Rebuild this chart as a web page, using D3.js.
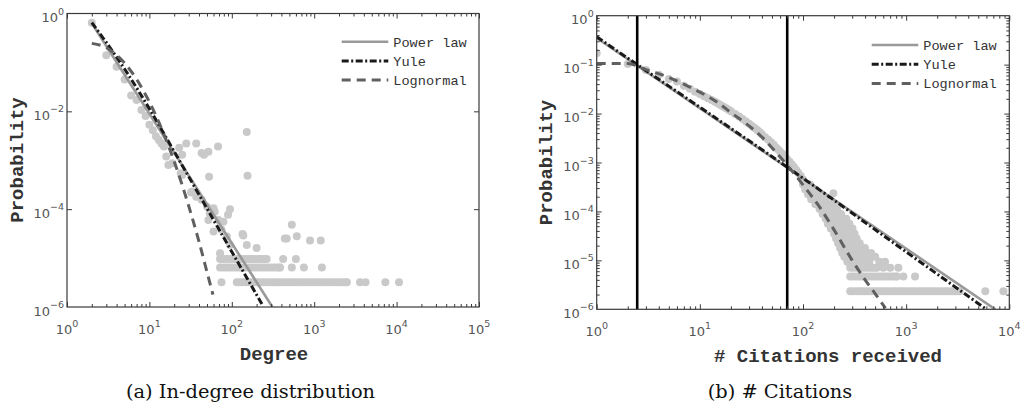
<!DOCTYPE html>
<html><head><meta charset="utf-8">
<script src="https://cdn.jsdelivr.net/npm/d3@7"></script>
<style>body{margin:0;background:#fff} svg{display:block}</style>
</head><body>
<svg id="chart" width="1021" height="403"></svg>
<script>
// ---------------- DATA ----------------
// (a) In-degree distribution : scattered observations [degree, probability]
const degreePoints = [
  [2,0.65],[3,0.14],[4,0.082],[5,0.045],[6,0.021],[7,0.017],[8,0.0107],[9,0.0080],[10,0.0053],
  [11,0.0041],[12,0.0031],[13,0.0026],[14,0.0022],[15,0.0019],[16,0.0012],[17,0.0008],[19,0.00087],
  [23,0.0018],[25,0.0013],[24,0.00054],[25,0.0005],[28,0.0022],[32,0.00022],[33,0.00023],[37,0.0022],
  [37,0.00018],[43,0.0014],[43,0.000155],[46,0.0013],[50,0.000112],[52,0.0015],[53,0.00046],
  [54,0.000082],[52,0.00006],[60,0.000104],[60,0.000035],[62,0.000089],[68,0.0019],[69,0.00006],
  [72,0.0000125],[75,0.000038],[79,0.000055],[87,0.0000275],[90,0.000077],[95,0.0001],[95,0.0000185],
  [135,0.000031],[138,0.000029],[152,0.0000185],[152,0.0038],[155,0.00048],[200,0.000016],
  [440,0.000025],[464,0.000025],[535,0.000048],[615,0.000028],[890,0.000023],[1200,0.000023]
];
// degrees observed once, twice, three times
const degreeOnce  = [75,115,125,136,148,161,175,190,207,225,245,267,290,316,344,374,407,443,482,524,570,620,675,734,799,869,946,1029,1120,1218,1326,1442,1570,1708,1858,2022,2200,2400,2490,3600,4200,7300,10700];
const degreeTwice = [72,78,85,92,100,109,118,128,139,151,164,178,194,211,229,249,271,294,320,348,378,385,535,750,1240];
const degreeThrice= [72,78,85,92,100,109,118,128,139,151,164,178,194,211,229,249,265,420,600];
const degreeRowProb = [3.2e-6, 6.4e-6, 9.6e-6];

// fitted curves (a)
const degPowerLaw  = [[2,0.63],[311,1e-6]];
const degYule      = [[2,0.65],[3,0.256],[5,0.0733],[10,0.01127],[20,0.00151],[50,0.000103],[100,1.35e-5],[240,1.04e-6]];
const degLognormal = [[2,0.245],[3,0.20],[5,0.097],[7,0.045],[10,0.0155],[15,0.0034],[20,0.00094],[25,0.00031],[30,0.000116],[40,0.0000216],[50,0.0000052],[59,0.0000018]];

// (b) # Citations : main band [citations, probability]
const citeBand = [
  [1,0.17],[2,0.103],[3,0.078],[4,0.062],[5,0.051],[6,0.045],[7,0.037],[8,0.032],[9,0.028],[10,0.025],
  [11,0.0225],[12,0.0205],[13,0.019],[14,0.0174],[15,0.016],[16,0.0148],[17,0.0138],[18,0.0128],[19,0.0119],
  [20,0.0112],[22,0.0098],[24,0.0087],[26,0.0077],[28,0.0069],[30,0.0062],[32,0.0056],[34,0.0051],[36,0.0046],
  [38,0.0042],[40,0.0038],[43,0.0033],[46,0.0029],[49,0.0026],[52,0.0023],[55,0.0020],[58,0.0018],[61,0.0016],
  [64,0.00145],[67,0.0013],[70,0.00118],[74,0.00104],[78,0.00091],[82,0.0008],[86,0.0007],[90,0.00062],
  [95,0.00053],[100,0.00045],[197,0.000234]
];
// tail cloud: probability level and the citation counts seen at that level
const citeCloudProb = [3.55e-4,2.82e-4,2.24e-4,1.78e-4,1.41e-4,1.12e-4,8.9e-5,7.1e-5,5.6e-5,4.5e-5,3.5e-5,2.8e-5,2.24e-5,1.78e-5,1.41e-5,1.18e-5,9.4e-6,7.05e-6,4.7e-6,2.35e-6];
const citeCloudKs = [
  [100,106,112,117],
  [105,111,118,125,132],
  [112,119,126,134,142,151],
  [120,128,136,145,155,166],
  [132,141,151,162,174,188,200],
  [145,155,166,178,191,204,214],
  [155,166,178,191,205,220,234],
  [166,178,191,205,220,236,252,263],
  [174,187,200,215,231,248,266,282],
  [186,200,214,230,247,265,284,302],
  [200,214,230,247,265,284,305,316],
  [209,224,240,258,276,296,318,331],
  [219,235,252,270,290,311,334,355],
  [229,246,264,283,303,325,349,374,398],
  [240,258,276,296,318,341,366,392,420,457],
  [251,270,289,310,332,356,382,410,440,501],
  [269,288,309,332,356,382,410,440,549,624],
  [287,307,329,352,376,403,431,461,493,520,600,700,840],
  [287,307,329,352,376,403,431,461,493,528,565,604,647,692,740,792,810,940,1220],
  [287,305,330,350,375,400,430,460,495,530,565,605,645,690,740,790,850,905,970,1040,1110,1190,1270,1360,1460,1560,1670,1790,1910,2040,2190,2340,2500,2680,2870,3070,3300,5850,8760]
];
// fitted curves (b)
const citePowerLaw  = [[1,0.35],[7300,1e-6]];
const citeYule      = [[1,0.37],[2.47,0.100],[10,0.0135],[70,0.00081],[1000,1.49e-5],[6000,1e-6]];
const citeLognormal = [[1,0.106],[2,0.105],[3,0.079],[5,0.055],[8,0.0347],[10,0.0275],[15,0.0166],[20,0.0105],[30,0.0056],[40,0.0033],[50,0.002],[70,0.00089],[100,0.00035],[150,0.00011],[200,0.000042],[300,0.00001],[400,0.000004],[500,0.0000021],[630,0.00000105]];
const citeVLines = [2.47, 70.3];

const legendLabels = ["Power law","Yule","Lognormal"];
const xTitles = ["Degree","# Citations received"];
const captions = ["(a) In-degree distribution","(b) # Citations"];

// ---------------- DRAWING ----------------
const svg = d3.select("#chart");
const AX = "#3a3a3a", LAB = "#555";
const styles = [
  {stroke:"#999999", width:2.6, dash:null},
  {stroke:"#1a1a1a", width:3, dash:"7,2.5,2,2.5"},
  {stroke:"#606060", width:3, dash:"9,6"}
];

function panel(opt){
  const x = d3.scaleLog().domain(opt.xd).range([opt.x0, opt.x1]);
  const y = d3.scaleLog().domain([1e-6,1]).range([opt.y1, opt.y0]);
  const g = svg.append("g");
  const cid = "clip"+opt.id;
  svg.append("clipPath").attr("id",cid).append("rect")
     .attr("x",opt.x0).attr("y",opt.y0).attr("width",opt.x1-opt.x0).attr("height",opt.y1-opt.y0);
  const plot = g.append("g").attr("clip-path",`url(#${cid})`);

  const xMaj = d3.range(Math.log10(opt.xd[0]), Math.log10(opt.xd[1])+1).map(e=>Math.pow(10,e));
  const xMin = [];
  xMaj.slice(0,-1).forEach(d=>{for(let m=2;m<10;m++) xMin.push(d*m);});
  const yMaj = opt.yMajor;
  const yMin = [];
  if(opt.yMinor) d3.range(-6,0).forEach(e=>{for(let m=2;m<10;m++) yMin.push(m*Math.pow(10,e));});

  const tk = (sel)=>{sel.select(".domain").remove(); sel.selectAll("line").attr("stroke",AX).attr("stroke-width",1);};
  g.append("g").attr("transform",`translate(0,${opt.y1})`).call(d3.axisBottom(x).tickValues(xMaj).tickSize(-5).tickFormat("")).call(tk);
  g.append("g").attr("transform",`translate(0,${opt.y1})`).call(d3.axisBottom(x).tickValues(xMin).tickSize(-3).tickFormat("")).call(tk);
  g.append("g").attr("transform",`translate(0,${opt.y0})`).call(d3.axisTop(x).tickValues(xMaj).tickSize(-5).tickFormat("")).call(tk);
  g.append("g").attr("transform",`translate(0,${opt.y0})`).call(d3.axisTop(x).tickValues(xMin).tickSize(-3).tickFormat("")).call(tk);
  g.append("g").attr("transform",`translate(${opt.x0},0)`).call(d3.axisLeft(y).tickValues(yMaj).tickSize(-5).tickFormat("")).call(tk);
  g.append("g").attr("transform",`translate(${opt.x1},0)`).call(d3.axisRight(y).tickValues(yMaj).tickSize(-5).tickFormat("")).call(tk);
  if(yMin.length){
    g.append("g").attr("transform",`translate(${opt.x0},0)`).call(d3.axisLeft(y).tickValues(yMin).tickSize(-3).tickFormat("")).call(tk);
    g.append("g").attr("transform",`translate(${opt.x1},0)`).call(d3.axisRight(y).tickValues(yMin).tickSize(-3).tickFormat("")).call(tk);
  }
  g.append("rect").attr("x",opt.x0).attr("y",opt.y0).attr("width",opt.x1-opt.x0).attr("height",opt.y1-opt.y0)
    .attr("fill","none").attr("stroke",AX).attr("stroke-width",1.2);

  xMaj.forEach(v=>{
    const t = g.append("text").attr("x",x(v)).attr("y",opt.y1+27).attr("text-anchor","middle")
      .attr("font-family","DejaVu Sans").attr("font-size",13).attr("fill",LAB);
    t.append("tspan").text("10");
    t.append("tspan").attr("dy",-7.5).attr("font-size",9.5).text(Math.round(Math.log10(v)));
  });
  opt.yLabels.forEach(v=>{
    const t = g.append("text").attr("x",opt.x0-3).attr("y",y(v)+8.5).attr("text-anchor","end")
      .attr("font-family","DejaVu Sans").attr("font-size",13).attr("fill",LAB);
    t.append("tspan").text("10");
    const e = Math.round(Math.log10(v));
    t.append("tspan").attr("dy",-7.5).attr("font-size",9.5).text(e===0?"0":"\u2212"+(-e));
  });
  return {x,y,g,plot};
}

function dots(p, data){
  p.plot.append("g").selectAll("circle").data(data).join("circle")
    .attr("cx",d=>p.x(d[0])).attr("cy",d=>p.y(d[1])).attr("r",4).attr("fill","#c9c9c9");
}
function curve(p, data, s){
  const line = d3.line().x(d=>p.x(d[0])).y(d=>p.y(d[1])).curve(d3.curveMonotoneX);
  p.plot.append("path").datum(data).attr("d",line).attr("fill","none")
    .attr("stroke",s.stroke).attr("stroke-width",s.width).attr("stroke-dasharray",s.dash);
}
function legend(p, lx, ly){
  legendLabels.forEach((lab,i)=>{
    const s = styles[i], yy = ly + i*19.2;
    p.g.append("line").attr("x1",lx).attr("x2",lx+46.6).attr("y1",yy).attr("y2",yy)
      .attr("stroke",s.stroke).attr("stroke-width",s.width).attr("stroke-dasharray",s.dash);
    p.g.append("text").attr("x",lx+51.6).attr("y",yy+4.8).attr("font-family","Liberation Mono")
      .attr("font-size",13.6).attr("fill","#333").text(lab);
  });
}

// Panel (a)
const A = panel({id:"a", xd:[1,1e5], x0:67, x1:479, y0:13.5, y1:307,
  yMajor:[1e-2,1e-4], yMinor:false, yLabels:[1,1e-2,1e-4,1e-6]});
dots(A, degreePoints);
[degreeOnce,degreeTwice,degreeThrice].forEach((ks,i)=>dots(A, ks.map(k=>[k,degreeRowProb[i]])));
curve(A, degPowerLaw, styles[0]);
curve(A, degYule, styles[1]);
curve(A, degLognormal, styles[2]);
legend(A, 341.7, 41.7);

// Panel (b)
const B = panel({id:"b", xd:[1,1e4], x0:596.7, x1:1009.3, y0:15.7, y1:309.3,
  yMajor:[1e-1,1e-2,1e-3,1e-4,1e-5], yMinor:true, yLabels:[1,1e-1,1e-2,1e-3,1e-4,1e-5,1e-6]});
dots(B, citeBand);
citeCloudKs.forEach((ks,i)=>dots(B, ks.map(k=>[k,citeCloudProb[i]])));
curve(B, citePowerLaw, styles[0]);
curve(B, citeYule, styles[1]);
curve(B, citeLognormal, styles[2]);
B.plot.append("g").selectAll("line").data(citeVLines).join("line")
  .attr("x1",d=>B.x(d)).attr("x2",d=>B.x(d)).attr("y1",15.7).attr("y2",309.3)
  .attr("stroke","#000").attr("stroke-width",2.6);
legend(B, 871.7, 45);

// titles
const titleFont = (sel)=>sel.attr("font-family","Liberation Mono").attr("font-weight","bold").attr("font-size",19).attr("fill","#333");
svg.append("text").attr("transform","translate(23,160) rotate(-90)").attr("text-anchor","middle").call(titleFont).text("Probability");
svg.append("text").attr("transform","translate(552,162.5) rotate(-90)").attr("text-anchor","middle").call(titleFont).text("Probability");
svg.append("text").attr("x",274).attr("y",360).attr("text-anchor","middle").call(titleFont).text(xTitles[0]);
svg.append("text").attr("x",828).attr("y",361.5).attr("text-anchor","middle").call(titleFont).text(xTitles[1]);
svg.append("text").attr("x",250.5).attr("y",398).attr("text-anchor","middle")
  .attr("font-family","DejaVu Serif").attr("font-size",19.4).attr("fill","#111").text(captions[0]);
svg.append("text").attr("x",780).attr("y",397.5).attr("text-anchor","middle")
  .attr("font-family","DejaVu Serif").attr("font-size",19.4).attr("fill","#111").text(captions[1]);
</script>
</body></html>
